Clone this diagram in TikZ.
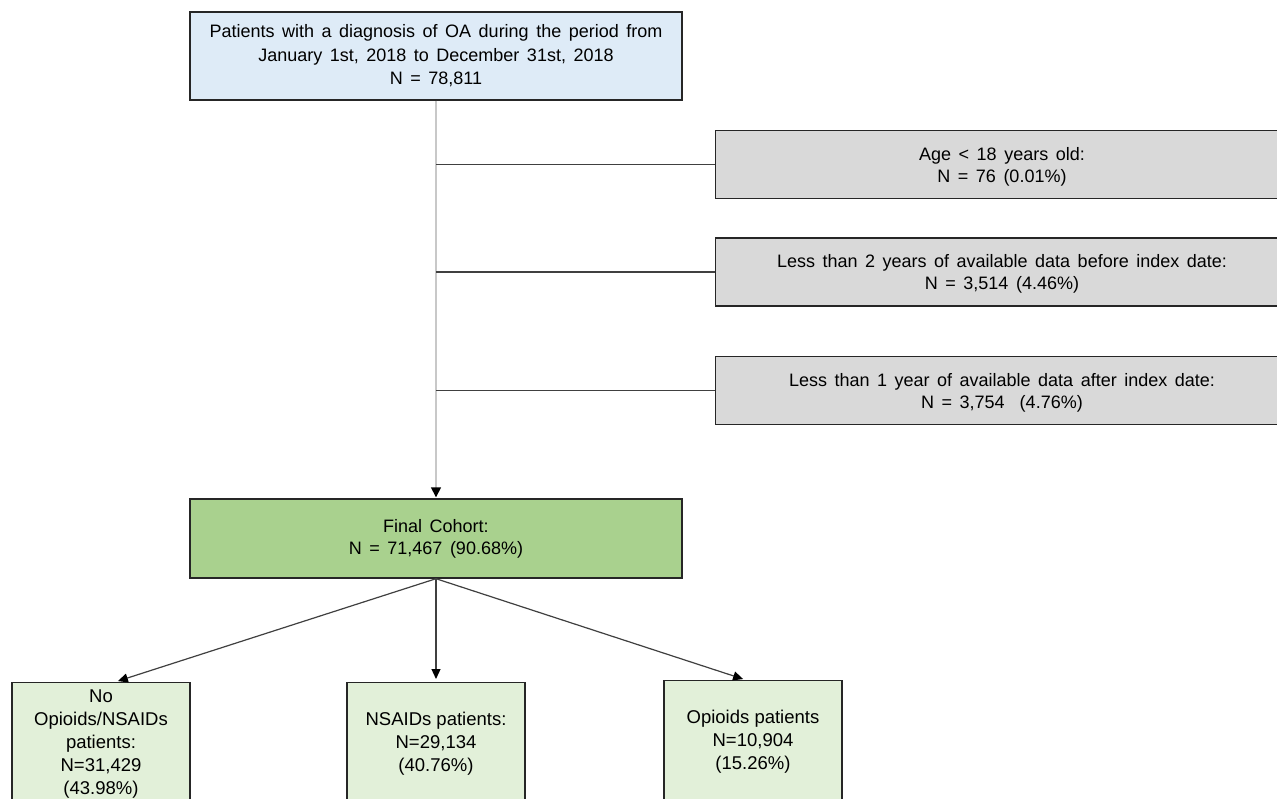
\documentclass[tikz,border=0pt]{standalone}
\usepackage{fontspec}
\setmainfont{Liberation Sans}
\newfontfamily\widefont{Liberation Sans}[WordSpace={1.5,1,1}]
\usetikzlibrary{arrows.meta,calc}
\definecolor{topblue}{HTML}{DEEBF7}
\definecolor{exgray}{HTML}{D9D9D9}
\definecolor{cohort}{HTML}{A9D18E}
\definecolor{armgreen}{HTML}{E2F0D9}
\definecolor{edge}{HTML}{262626}
\definecolor{linkgray}{HTML}{404040}
\definecolor{spinegray}{HTML}{C8C8C8}
\begin{document}
\begin{tikzpicture}[x=1pt,y=-1pt,
  box/.style={draw=edge,line width=1.4pt,inner sep=0pt,align=center},
  maintext/.style={font=\widefont\fontsize{18}{22}\selectfont,align=center,inner sep=0pt},
  armbox/.style={box,minimum width=178pt,minimum height=122pt,anchor=north,font=\fontsize{18.5}{23}\selectfont},
  exbox/.style={box,fill=exgray,minimum height=68pt,minimum width=585pt,anchor=west},
  spine/.style={draw=spinegray,line width=1.6pt,-{Triangle[length=10pt,width=10pt,color=black]},shorten >=1pt},
  branch/.style={draw=linkgray,line width=1.3pt},
  arr/.style={draw=linkgray,line width=1.2pt,-{Triangle[length=10pt,width=9pt,color=black]},shorten >=3pt}
]
\useasboundingbox (0,0) rectangle (1277,798);
\clip (0,0) rectangle (1277,798);
\fill[white] (0,0) rectangle (1277,798);

\node[box,fill=topblue,minimum width=492pt,minimum height=88pt,font=\widefont\fontsize{18}{23.5}\selectfont] (top) at (436,56)
  {Patients with a diagnosis of OA during the period from\\January 1st, 2018 to December 31st, 2018\\N = 78,811};

\node[exbox] (g1) at (715,164.5) {};
\node[maintext] (g1t) at (1002,167) {Age < 18 years old:\\N = 76 (0.01\%)};
\node[exbox] (g2) at (715,272) {};
\node[maintext] (g2t) at (1002,274) {Less than 2 years of available data before index date:\\N = 3,514 (4.46\%)};
\node[exbox] (g3) at (715,390.5) {};
\node[maintext] (g3t) at (1002,393) {Less than 1 year of available data after index date:\\N = 3,754~~(4.76\%)};

\node[box,fill=cohort,minimum width=492pt,minimum height=79pt,font=\widefont\fontsize{18}{22}\selectfont] (fc) at (436,538.5)
  {Final Cohort:\\N = 71,467 (90.68\%)};

\node[armbox,fill=armgreen] (b1) at (101,682) {No\\Opioids/NSAIDs\\patients:\\N=31,429\\(43.98\%)};
\node[armbox,fill=armgreen] (b2) at (436,682) {NSAIDs patients:\\N=29,134\\(40.76\%)};
\node[armbox,fill=armgreen] (b3) at (753,680) {Opioids patients\\N=10,904\\(15.26\%)};

\draw[spine] (top.south) -- (fc.north);
\draw[branch] (top.south |- g1.west) -- (g1.west);
\draw[branch] (top.south |- g2.west) -- (g2.west);
\draw[branch] (top.south |- g3.west) -- (g3.west);

\draw[arr] (fc.south) -- ([xshift=14pt]b1.north);
\draw[arr] (fc.south) -- (b2.north);
\draw[arr] (fc.south) -- ([xshift=-7pt]b3.north);
\end{tikzpicture}
\end{document}
